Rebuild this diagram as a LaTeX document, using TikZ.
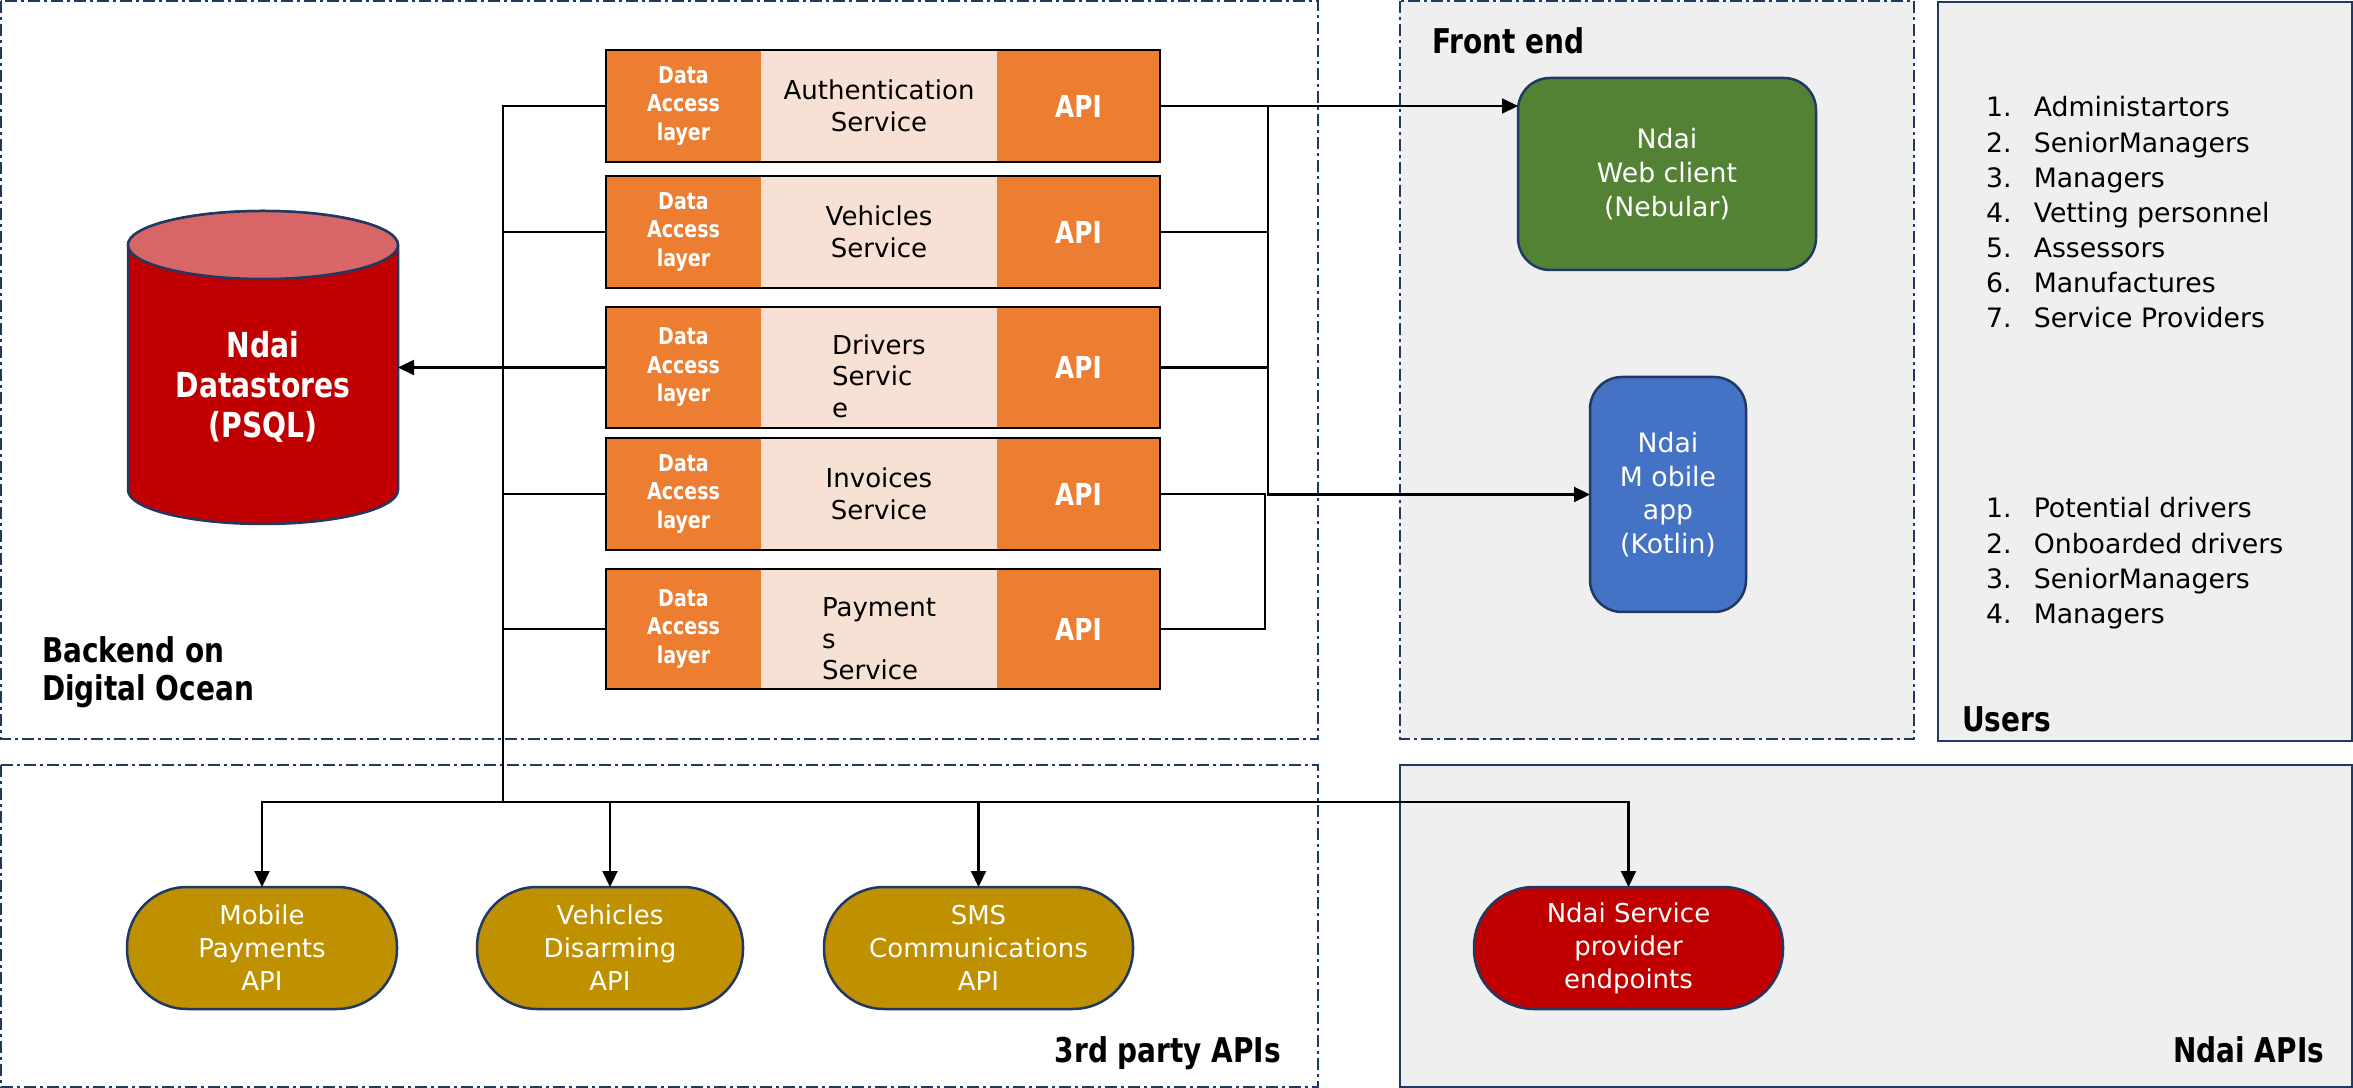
\documentclass[tikz,border=0pt]{standalone}
\usepackage{fontspec}
\setmainfont{DejaVu Sans}[BoldFeatures={FakeStretch=0.82}]
\usetikzlibrary{arrows.meta,positioning,fit}

\definecolor{navy}{HTML}{1F3864}
\definecolor{panel}{HTML}{EFEFEF}
\definecolor{dalorange}{HTML}{ED7D31}
\definecolor{peach}{HTML}{F7E1D4}
\definecolor{webgreen}{HTML}{548235}
\definecolor{appblue}{HTML}{4472C4}
\definecolor{apigold}{HTML}{BF9000}
\definecolor{dbred}{HTML}{C00000}
\definecolor{dbtop}{HTML}{D96666}

\begin{document}
\begin{tikzpicture}[
    x=0.1mm,y=-0.1mm,>={Triangle[length=1.6mm,width=1.5mm]},
    every node/.style={inner sep=0pt,outer sep=0pt},
    zone/.style={draw=navy,line width=0.2mm,
        dash pattern=on 1.2mm off 0.4mm on 0.3mm off 0.4mm},
    grey zone/.style={zone,fill=panel},
    solid zone/.style={draw=navy,line width=0.2mm,fill=panel},
    heading/.style={font=\fontsize{9.7}{10.8}\selectfont\bfseries,align=left},
    db body/.style={draw=navy,line width=0.25mm,fill=dbred},
    db top/.style={draw=navy,line width=0.25mm,fill=dbtop},
    dal/.style={fill=dalorange,text=white,minimum width=15.5mm,minimum height=11.2mm,
        align=center,font=\fontsize{6.6}{8.1}\selectfont\bfseries},
    svc/.style={fill=peach,minimum width=23.6mm,minimum height=11.2mm,align=center,
        font=\fontsize{7.4}{9}\selectfont},
    api/.style={dal,minimum width=16.3mm,font=\fontsize{8.6}{9}\selectfont\bfseries},
    frame/.style={draw=black,line width=0.2mm,fit=#1},
    conn/.style={line width=0.22mm},
    client/.style={draw=navy,line width=0.25mm,rounded corners=3.2mm,text=white,
        align=center,font=\fontsize{7.6}{9.6}\selectfont},
    pill/.style={draw=navy,line width=0.25mm,rounded corners=6mm,minimum height=12.2mm,
        fill=apigold,text=white,align=center,font=\fontsize{7.4}{9.4}\selectfont},
    userlist/.style={anchor=base west,font=\fontsize{7.6}{10}\selectfont}
]
 % zones
 \draw[zone] (1,1) rectangle (1318,739);
 \draw[grey zone] (1400,1) rectangle (1914,739);
 \draw[solid zone] (1938,2) rectangle (2352,741);
 \draw[zone] (1,765) rectangle (1318,1087);
 \draw[solid zone] (1400,765) rectangle (2352,1087);

 \node[heading,anchor=north west] (backend) at (42,637) {Backend on\\Digital Ocean};
 \node[heading,anchor=base west] (frontend) at (1432,54) {Front end};
 \node[heading,anchor=base west] (users) at (1962,732) {Users};
 \node[heading,anchor=base east] (thirdparty) at (1281,1062) {3rd party APIs};
 \node[heading,anchor=base east] (ndaiapis) at (2324,1062) {Ndai APIs};

 % datastore
 \node[minimum width=27mm,minimum height=31.3mm] (db) at (263,367.5) {};
 \draw[db body] (128,245) -- (128,490)
    arc[start angle=180,end angle=360,x radius=13.5mm,y radius=3.4mm]
    -- (398,245) arc[start angle=0,end angle=180,x radius=13.5mm,y radius=3.4mm];
 \draw[db top] (263,245) ellipse[x radius=13.5mm,y radius=3.4mm];
 \node[text=white,align=center,font=\fontsize{9.8}{11.4}\selectfont\bfseries]
    (dbname) at (263,387) {Ndai\\Datastores\\(PSQL)};

 % services
 \node[dal] (dal1) at (683.5,106) {Data\\Access\\layer};
 \node[svc,right=0pt of dal1] (svc1) {Authentication\\Service};
 \node[api,right=0pt of svc1] (api1) {API};
 \node[frame={(dal1)(api1)}] (auth) {};

 \node[dal] (dal2) at (683.5,232) {Data\\Access\\layer};
 \node[svc,right=0pt of dal2] (svc2) {Vehicles\\Service};
 \node[api,right=0pt of svc2] (api2) {API};
 \node[frame={(dal2)(api2)}] (vehicles) {};

 \node[dal,minimum height=12.1mm] (dal3) at (683.5,367.5) {Data\\Access\\layer};
 \node[svc,minimum height=12.1mm,right=0pt of dal3] (svc3)
    {\raisebox{-1.8mm}[0pt][0pt]{\begin{tabular}{@{}l@{}}Drivers\\Servic\\e\end{tabular}}};
 \node[api,minimum height=12.1mm,right=0pt of svc3] (api3) {API};
 \node[frame={(dal3)(api3)}] (drivers) {};

 \node[dal] (dal4) at (683.5,494) {Data\\Access\\layer};
 \node[svc,right=0pt of dal4] (svc4) {Invoices\\Service};
 \node[api,right=0pt of svc4] (api4) {API};
 \node[frame={(dal4)(api4)}] (invoices) {};

 \node[dal,minimum height=12mm] (dal5) at (683.5,629) {Data\\Access\\layer};
 \node[svc,minimum height=12mm,right=0pt of dal5] (svc5)
    {\raisebox{-1.9mm}[0pt][0pt]{\begin{tabular}{@{}l@{}}Payment\\s\\Service\end{tabular}}};
 \node[api,minimum height=12mm,right=0pt of svc5] (api5) {API};
 \node[frame={(dal5)(api5)}] (payments) {};

 % front end
 \node[client,fill=webgreen,minimum width=29.8mm,minimum height=19.2mm]
    (web) at (1667,174) {Ndai\\Web client\\(Nebular)};
 \node[client,fill=appblue,minimum width=15.6mm,minimum height=23.5mm]
    (app) at (1668,494.5) {Ndai\\M obile\\app\\(Kotlin)};

 % users
 \node[userlist] (staff) at (1986,117) {\begin{tabular}[t]{@{}p{13.6pt}@{}l@{}}
    1.&Administartors\\ 2.&SeniorManagers\\ 3.&Managers\\ 4.&Vetting personnel\\
    5.&Assessors\\ 6.&Manufactures\\ 7.&Service Providers\end{tabular}};
 \node[userlist] (drivers list) at (1986,518) {\begin{tabular}[t]{@{}p{13.6pt}@{}l@{}}
    1.&Potential drivers\\ 2.&Onboarded drivers\\ 3.&SeniorManagers\\
    4.&Managers\end{tabular}};

 % apis
 \node[pill,minimum width=27mm] (mpay) at (262,948) {Mobile\\Payments\\API};
 \node[pill,minimum width=26.6mm] (vdis) at (610,948) {Vehicles\\Disarming\\API};
 \node[pill,minimum width=30.9mm] (sms) at (978.5,948) {SMS\\Communications\\API};
 \node[pill,fill=dbred,minimum width=30.9mm] (ndaisp) at (1628.5,948)
    {Ndai Service\\provider\\endpoints};

 % left bus
 \coordinate (lbus) at (503,106);
 \coordinate (bbus) at (503,802);
 \draw[conn] (dal1.west) -- (lbus) -- (bbus);
 \draw[conn] (dal2.west) -- (dal2.west -| lbus);
 \draw[conn] (dal3.west) -- (dal3.west -| lbus);
 \draw[conn] (dal4.west) -- (dal4.west -| lbus);
 \draw[conn] (dal5.west) -- (dal5.west -| lbus);
 \draw[conn,->] (db.east -| lbus) -- (db.east);

 % right bus
 \coordinate (rbus) at (1268,106);
 \draw[conn,->] (api1.east) -- (api1.east -| web.west);
 \draw[conn] (api2.east) -- (api2.east -| rbus);
 \draw[conn] (api3.east) -- (api3.east -| rbus);
 \draw[conn,->] (rbus) |- (app.west);
 \draw[conn] (api4.east) -- ++(105,0) |- (api5.east);

 % bottom bus
 \draw[conn,->] (bbus) -| (mpay.north);
 \draw[conn,->] (bbus) -| (ndaisp.north);
 \draw[conn,->] (vdis.north |- bbus) -- (vdis.north);
 \draw[conn,->] (sms.north |- bbus) -- (sms.north);

 \useasboundingbox (0,0) rectangle (2353,1088);
\end{tikzpicture}
\end{document}
